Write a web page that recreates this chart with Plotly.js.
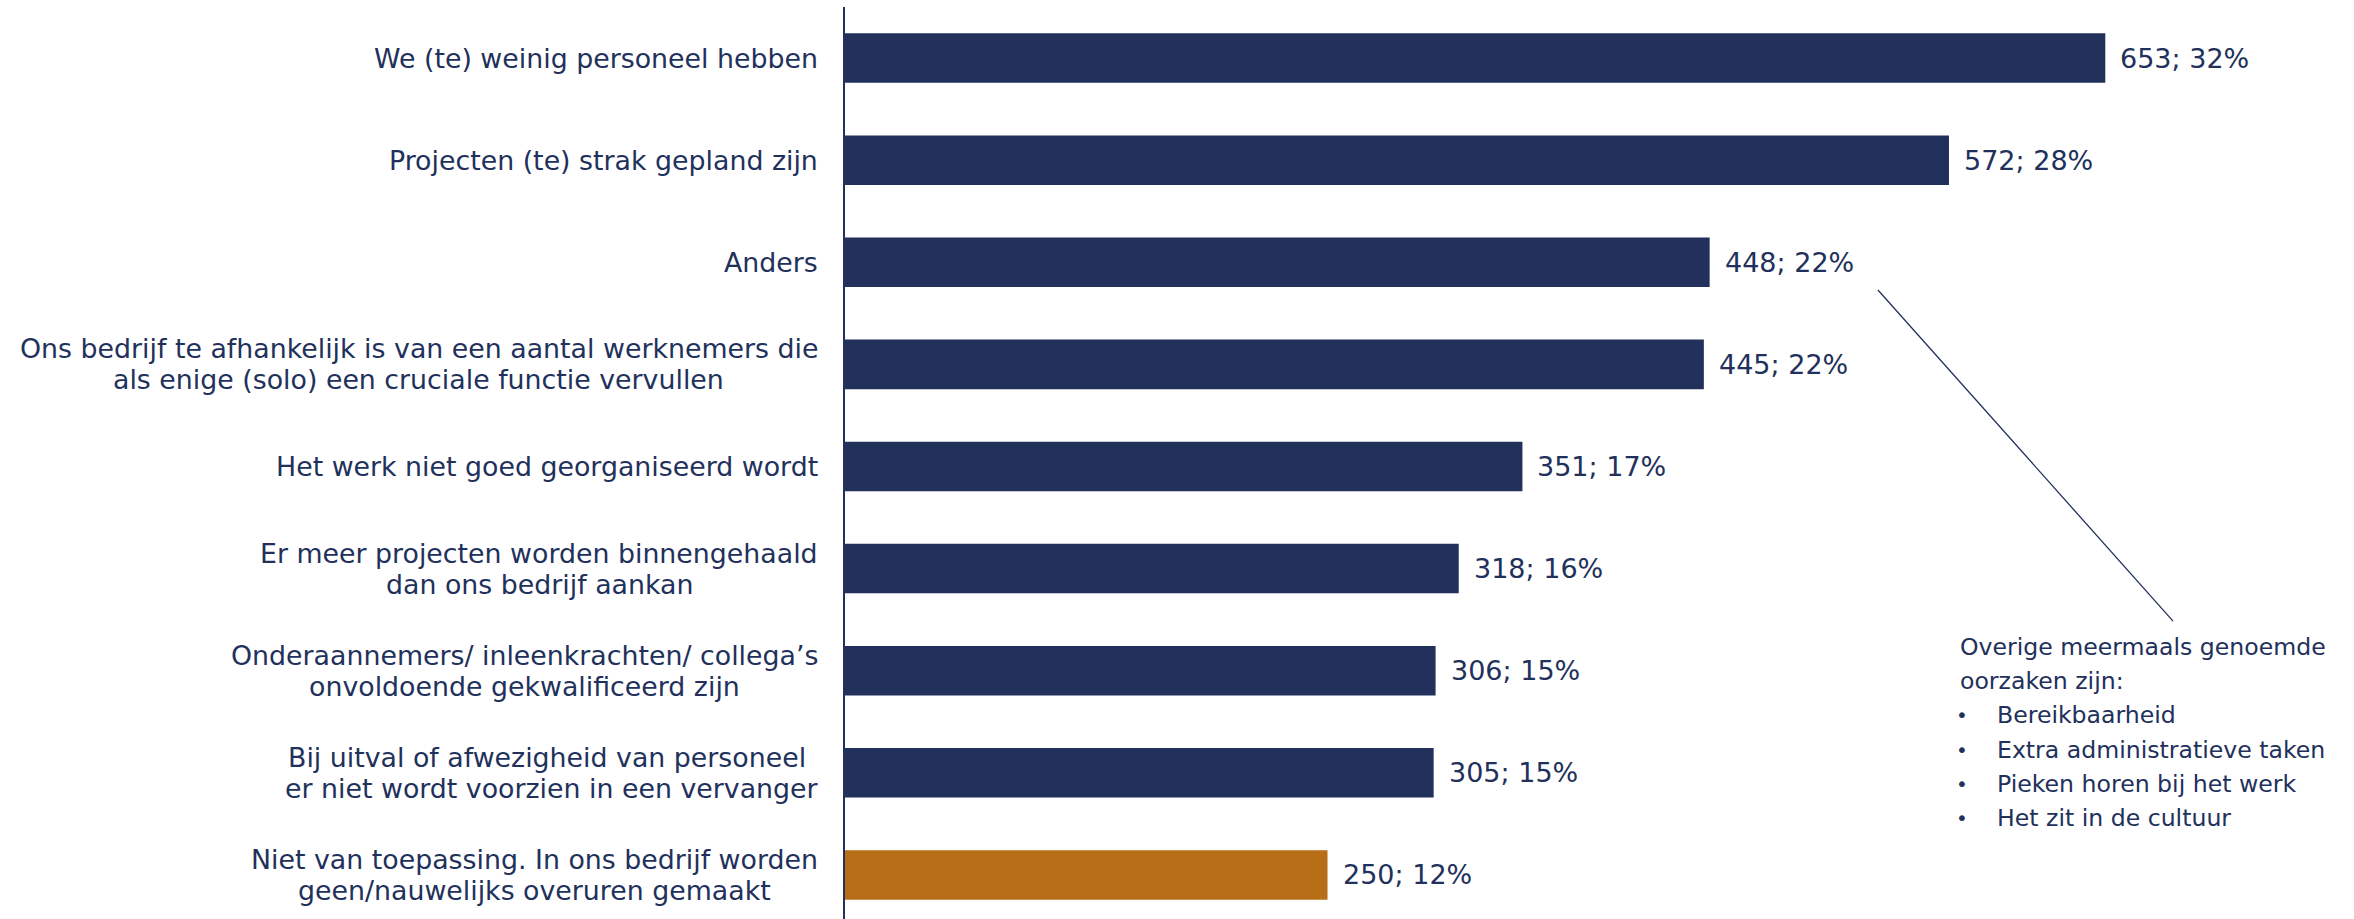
<!DOCTYPE html>
<html>
<head>
<meta charset="utf-8">
<script src="https://cdn.plot.ly/plotly-3.0.1.min.js"></script>
<style>
  html, body { margin: 0; padding: 0; background: #ffffff; }
  #chart { width: 2354px; height: 919px; }
</style>
</head>
<body>
<div id="chart"></div>
<script>
// ---- Data (top to bottom) ----
const categories = [
  "We (te) weinig personeel hebben",
  "Projecten (te) strak gepland zijn",
  "Anders",
  "Ons bedrijf te afhankelijk is van een aantal werknemers die<br>als enige (solo) een cruciale functie vervullen",
  "Het werk niet goed georganiseerd wordt",
  "Er meer projecten worden binnengehaald<br>dan ons bedrijf aankan",
  "Onderaannemers/ inleenkrachten/ collega\u2019s<br>onvoldoende gekwalificeerd zijn",
  "Bij uitval of afwezigheid van personeel\u00a0<br>er niet wordt voorzien in een vervanger",
  "Niet van toepassing. In ons bedrijf worden<br>geen/nauwelijks overuren gemaakt"
];
const counts = [653, 572, 448, 445, 351, 318, 306, 305, 250];
const percents = [32, 28, 22, 22, 17, 16, 15, 15, 12];
const isNotApplicable = [false, false, false, false, false, false, false, false, true];

const noteTitle = ["Overige meermaals genoemde", "oorzaken zijn:"];
const noteBullets = ["Bereikbaarheid", "Extra administratieve taken", "Pieken horen bij het werk", "Het zit in de cultuur"];

// ---- Styles ----
const NAVY = "#22315B";
const ORANGE = "#B86D17";
const FONT = "DejaVu Sans, Verdana, sans-serif";
const LABEL_SIZE = 26.8;
const VALUE_SIZE = 27;
const NOTE_SIZE = 23.6;

const W = 2354, H = 919;
const M = { l: 845, r: 0, t: 7, b: 0 };
const plotW = W - M.l - M.r;

// text measuring for centred multi-line category labels
const ctx = document.createElement("canvas").getContext("2d");
ctx.font = LABEL_SIZE + "px 'DejaVu Sans'";
const measure = s => ctx.measureText(s).width;

const idx = categories.map((_, i) => i);

const trace = {
  type: "bar",
  orientation: "h",
  y: idx,
  x: counts,
  marker: { color: isNotApplicable.map(f => f ? ORANGE : NAVY), line: { width: 0 } },
  hoverinfo: "none"
};

const annotations = [];
// category labels: block right edge 27px left of the axis, lines centred within the block
const labelRight = 818;
const lineGap = 31;
categories.forEach((c, i) => {
  const lines = c.split("<br>");
  const maxW = Math.max(...lines.map(measure));
  const cx = labelRight - maxW / 2;
  lines.forEach((ln, k) => {
    const off = ((lines.length - 1) / 2 - k) * lineGap;
    annotations.push({
      xref: "paper", yref: "y", x: (cx - M.l) / plotW, y: i,
      xanchor: "center", yanchor: "middle", yshift: off,
      text: ln, showarrow: false, borderpad: 0,
      font: { family: FONT, size: LABEL_SIZE, color: NAVY }
    });
  });
});
// value labels
counts.forEach((v, i) => {
  annotations.push({
    xref: "x", yref: "y", x: v, y: i,
    xanchor: "left", yanchor: "middle", xshift: 13,
    text: v + "; " + percents[i] + "%", showarrow: false,
    font: { family: FONT, size: VALUE_SIZE, color: NAVY }
  });
});
// side note
const noteX = 0.7376, bulletX = 0.7402, itemX = 0.7621;
const noteY0 = 0.2982, noteStep = 0.0375;
noteTitle.forEach((t, k) => {
  annotations.push({
    xref: "paper", yref: "paper", x: noteX, y: noteY0 - k * noteStep,
    xanchor: "left", yanchor: "middle", text: t, showarrow: false,
    font: { family: FONT, size: NOTE_SIZE, color: NAVY }
  });
});
noteBullets.forEach((t, k) => {
  const yy = noteY0 - (k + 2) * noteStep;
  annotations.push({
    xref: "paper", yref: "paper", x: bulletX, y: yy,
    xanchor: "center", yanchor: "middle", text: "\u2022", showarrow: false,
    font: { family: FONT, size: 20, color: NAVY }
  });
  annotations.push({
    xref: "paper", yref: "paper", x: itemX, y: yy,
    xanchor: "left", yanchor: "middle", text: t, showarrow: false,
    font: { family: FONT, size: NOTE_SIZE, color: NAVY }
  });
});

const layout = {
  width: W, height: H,
  margin: M,
  paper_bgcolor: "#ffffff", plot_bgcolor: "#ffffff",
  showlegend: false,
  bargap: 0.515,
  xaxis: {
    range: [0, plotW / 1.93], showgrid: false, zeroline: false, showline: false,
    showticklabels: false, ticks: "", fixedrange: true
  },
  yaxis: {
    type: "linear", range: [8.432, -0.5], showgrid: false, zeroline: false,
    showline: true, linecolor: NAVY, linewidth: 2, ticks: "", showticklabels: false,
    fixedrange: true
  },
  shapes: [{
    type: "line", xref: "x", yref: "y",
    x0: 535.2, y0: 2.272, x1: 688.1, y1: 5.514,
    line: { color: NAVY, width: 1.3 }
  }],
  annotations: annotations,
  font: { family: FONT, color: NAVY }
};

Plotly.newPlot("chart", [trace], layout, { displayModeBar: false, staticPlot: true });
</script>
</body>
</html>
